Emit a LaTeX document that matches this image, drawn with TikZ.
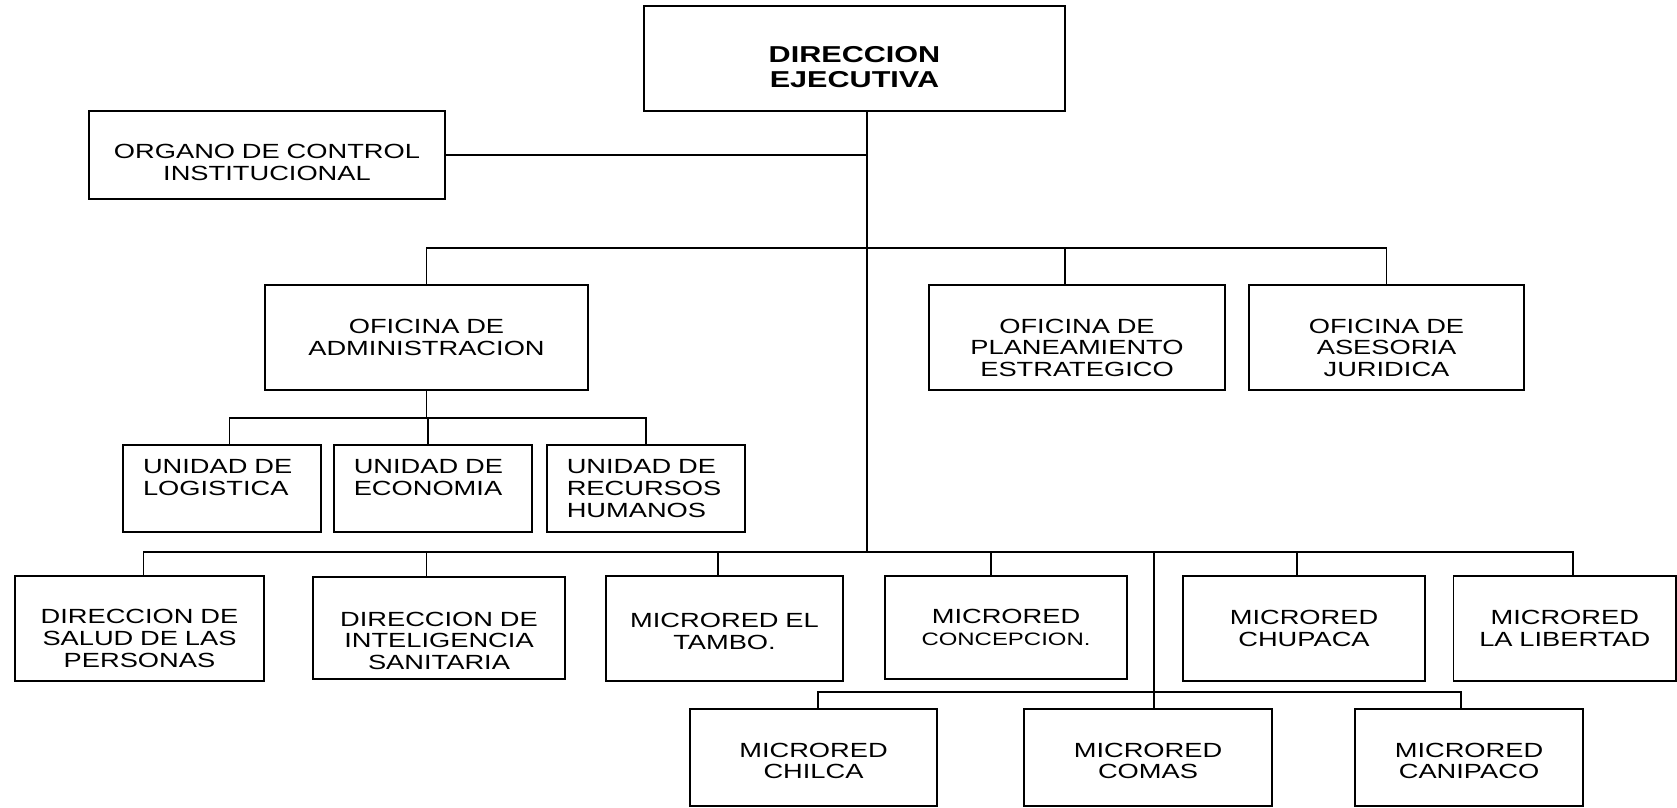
\documentclass[tikz,border=0pt]{standalone}
\usepackage{fontspec}
\newfontfamily\orgfont[FakeStretch=1.33]{Liberation Sans}
\usepackage{tikz}
\usetikzlibrary{calc}
\usetikzlibrary{positioning}

\begin{document}
\begin{tikzpicture}[
			x=1pt,
			y=-1pt,
			line width=1.5pt,
			every node/.style={
					draw,
					line width=1.5pt,
					align=center,
					inner sep=0pt,
					font=\orgfont\fontsize{20.5}{21.7}\selectfont
				},
			box/.style 2 args={
					minimum width=#1pt,
					minimum height=#2pt,
					text width=#1pt-16pt
				},
			unidad/.style={
					minimum width=198pt,
					minimum height=87pt,
					text width=158pt, % 20pt free on the left
					align=left
				},
			bajar/.style={execute at begin node={\rule{0pt}{#1pt}}} % taller first line pushes the text down
		]
		\useasboundingbox (0,0) rectangle (1677,807);

		\node[box={421}{105}, bajar=34, font=\orgfont\bfseries\fontsize{23}{25}\selectfont] (dir) at (854.5, 58.5) {DIRECCION\\EJECUTIVA};
		\node[box={356}{88}, bajar=29] (oci) at (267, 155) {ORGANO DE CONTROL\\INSTITUCIONAL};

		\node[box={323}{105}] (oadm) at (426.5, 337.5) {OFICINA DE\\ADMINISTRACION};
		\node[box={296}{105}, bajar=35] (opla) at (1077, 337.5) {OFICINA DE\\PLANEAMIENTO\\ESTRATEGICO};
		\node[box={275}{105}, bajar=35] (oase) at (1386.5, 337.5) {OFICINA DE\\ASESORIA\\JURIDICA};

		\node[unidad] (ulog) at (222, 488.5) {UNIDAD DE\\LOGISTICA\\\mbox{}};
		\node[unidad] (ueco) at (432.75, 488.5) {UNIDAD DE\\ECONOMIA\\\mbox{}};
		\node[unidad] (urrh) at (645.75, 488.5) {UNIDAD DE\\RECURSOS\\HUMANOS};

		\node[box={249}{105}, bajar=34] (dsp) at (139.5, 628.5) {DIRECCION DE\\SALUD DE LAS\\PERSONAS};
		\node[box={252}{102}, bajar=40] (dis) at (439, 628) {DIRECCION DE\\INTELIGENCIA\\SANITARIA};
		\node[box={237}{105}, bajar=20.6] (tam) at (724.5, 628.5) {MICRORED EL\\TAMBO.};
		\node[box={242}{103}] (con) at (1006, 627.5) {MICRORED\\{\fontsize{18}{20}\selectfont CONCEPCION.}};
		\node[box={242}{105}] (chu) at (1304, 628.5) {MICRORED\\CHUPACA};
		\node[box={222.5}{105}] (lib) at (1564.75, 628.5) {MICRORED\\LA LIBERTAD};

		\node[box={247}{97}, bajar=21] (chi) at (813.5, 757.5) {MICRORED\\CHILCA};
		\node[box={248}{97}, bajar=21] (com) at (1148, 757.5) {MICRORED\\COMAS};
		\node[box={228}{97}, bajar=21] (can) at (1469, 757.5) {MICRORED\\CANIPACO};

		% bus levels
		\coordinate (top) at ([xshift=12.5]dir.south);
		\coordinate (bof) at (0, 248);
		\coordinate (bun) at (0, 418);
		\coordinate (bmr) at (0, 552);
		\coordinate (bsm) at (0, 692);

		\draw (top) -- (top |- bmr);
		\draw (oci.east) -- (oci.east -| top);

		\draw (oadm.north) -- (oadm.north |- bof) -- (oase.north |- bof) -- (oase.north);
		\draw ([xshift=-12]opla.north) -- ([xshift=-12]opla.north |- bof);

		\draw (oadm.south) -- (oadm.south |- bun);
		\draw ([xshift=7.5]ulog.north) |- (urrh.north |- bun) -- (urrh.north);
		\draw ([xshift=-5]ueco.north) -- ([xshift=-5]ueco.north |- bun);

		\draw ([xshift=4]dsp.north) |- ([xshift=8]lib.north |- bmr) -- ([xshift=8]lib.north);
		\draw ([xshift=-12.5]dis.north) -- ([xshift=-12.5]dis.north |- bmr);
		\draw ([xshift=-6.5]tam.north) -- ([xshift=-6.5]tam.north |- bmr);
		\draw ([xshift=-15]con.north) -- ([xshift=-15]con.north |- bmr);
		\draw ([xshift=-7]chu.north) -- ([xshift=-7]chu.north |- bmr);

		\draw ([xshift=6]com.north) -- ([xshift=6]com.north |- bmr);
		\draw ([xshift=4.5]chi.north) |- ([xshift=-8]can.north |- bsm) -- ([xshift=-8]can.north);

	\end{tikzpicture}
\end{document}
